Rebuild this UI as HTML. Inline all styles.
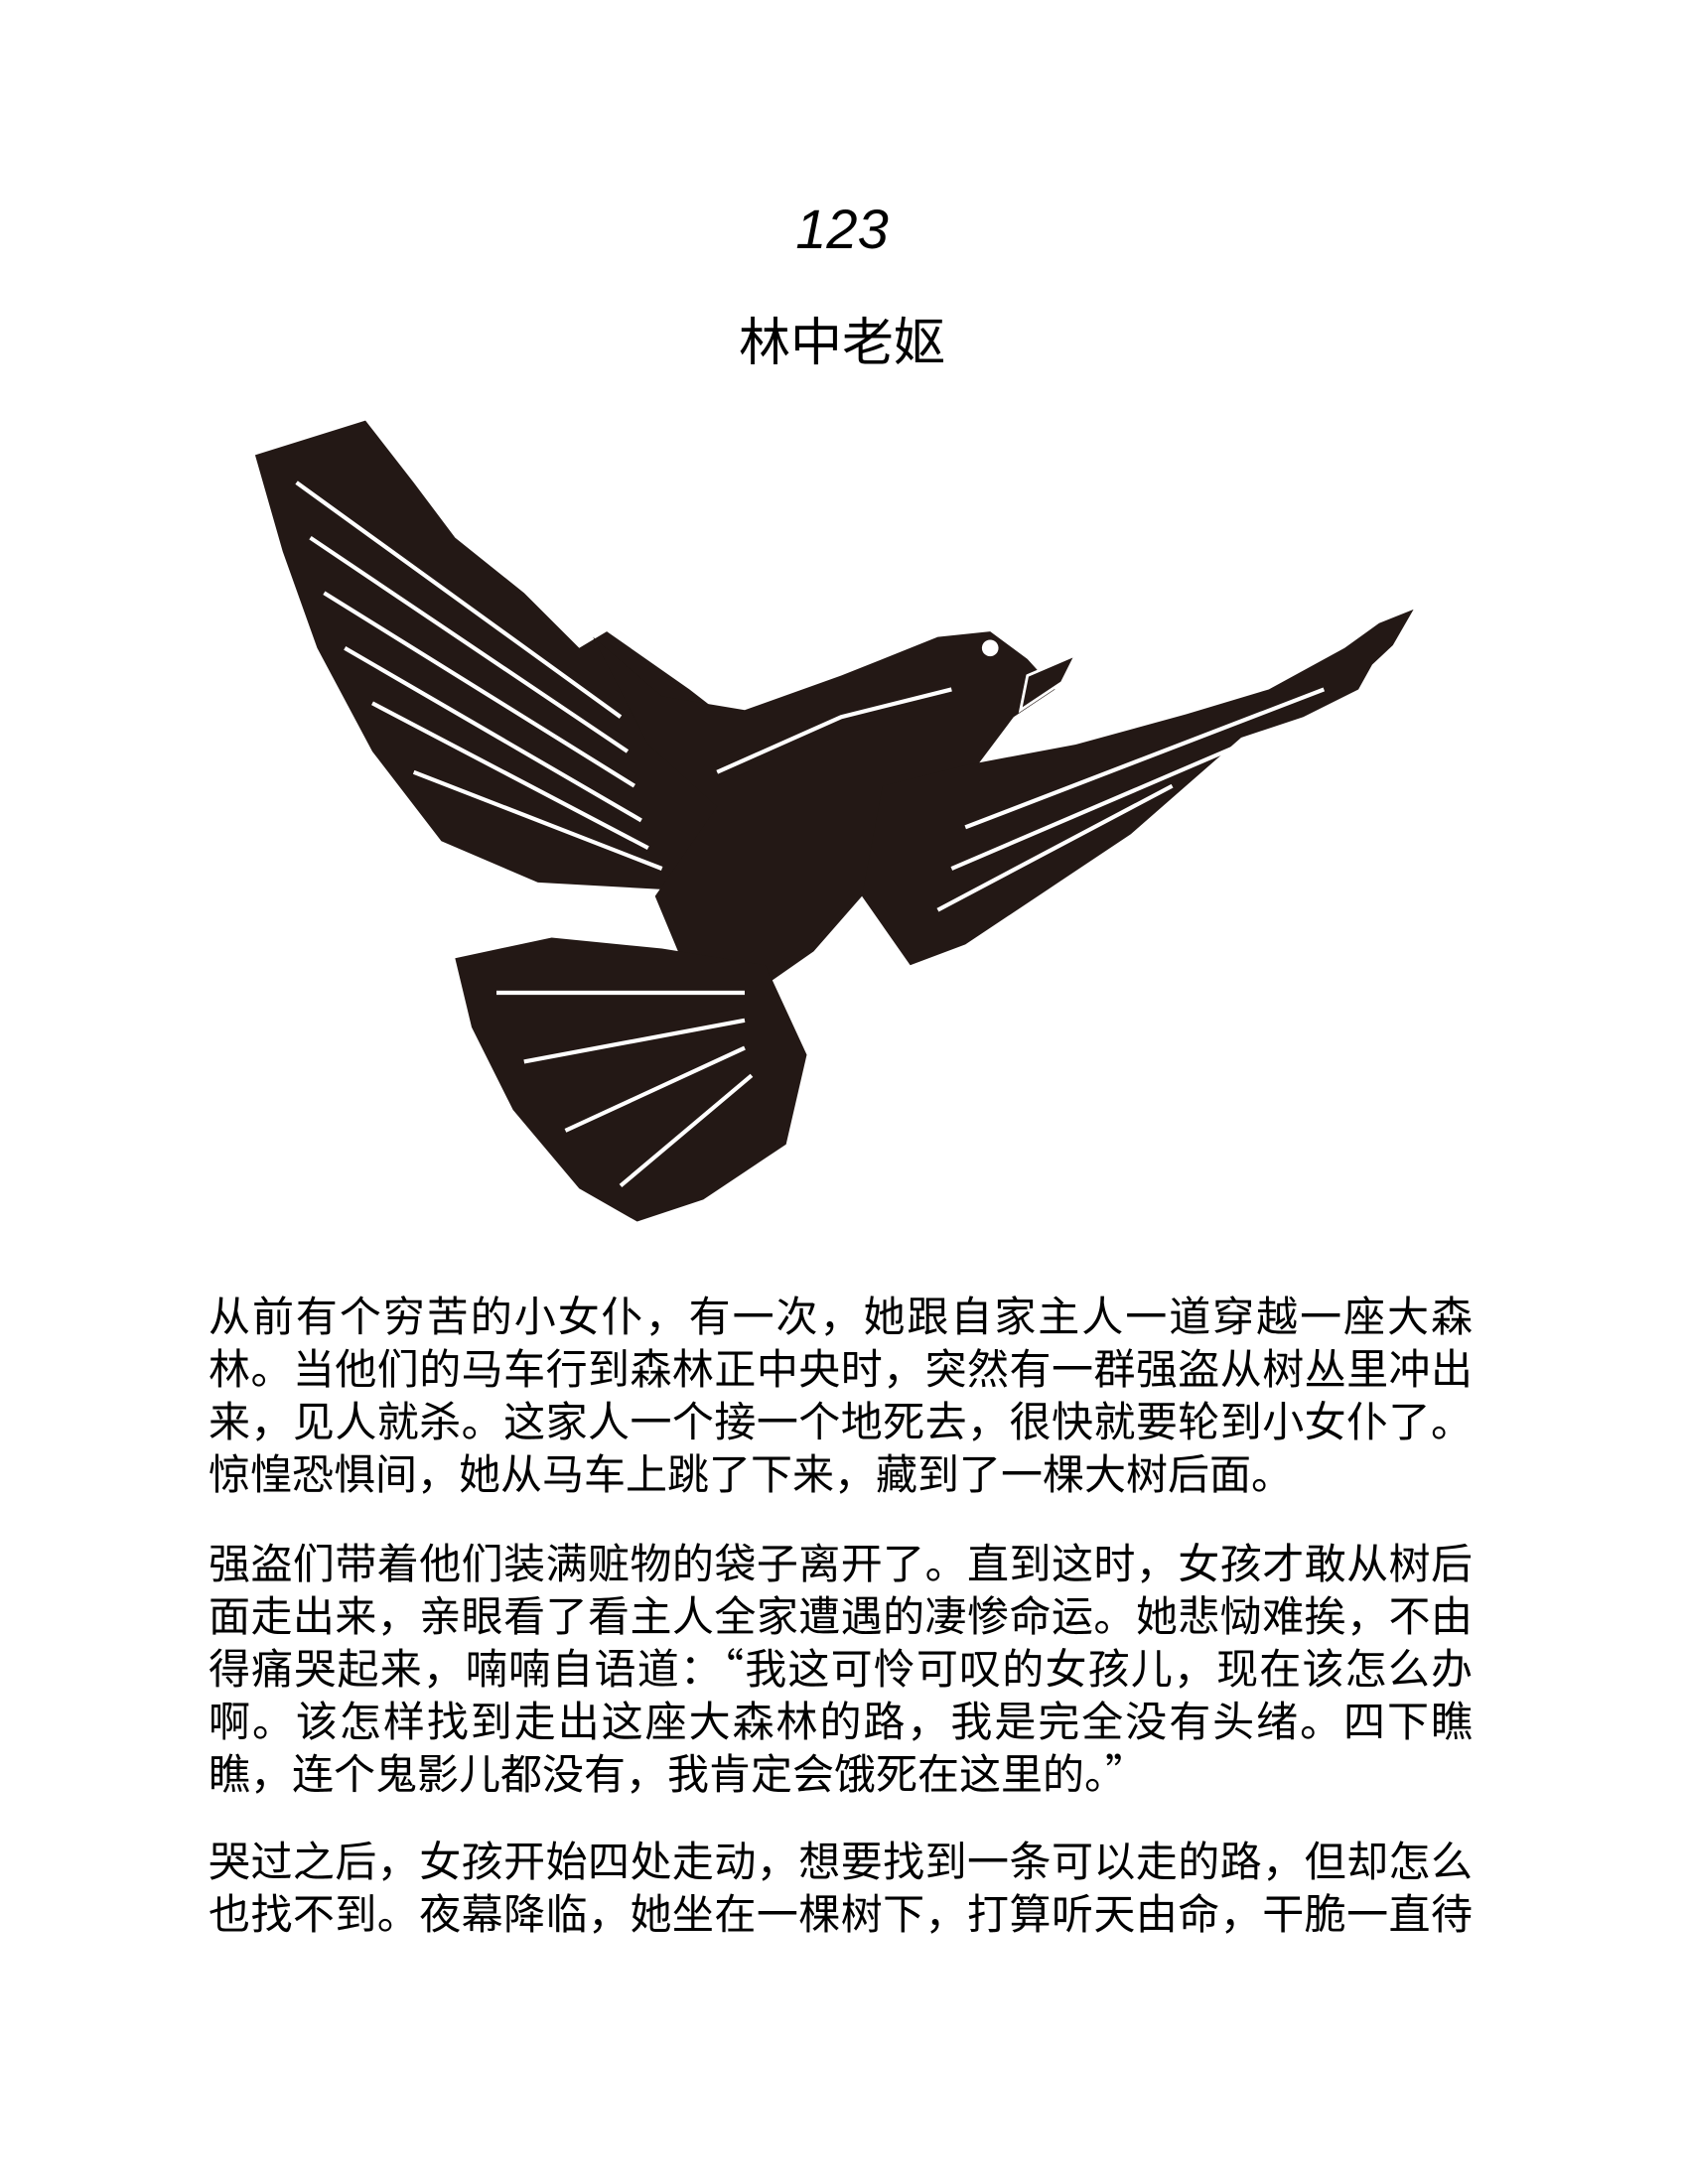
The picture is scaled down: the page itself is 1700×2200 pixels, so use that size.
<!DOCTYPE html>
<html><head><meta charset="utf-8">
<style>
html,body{margin:0;padding:0;background:#fff;}
body{width:1700px;height:2200px;position:relative;overflow:hidden;font-family:"Liberation Sans","Noto Sans CJK SC",sans-serif;color:#000;}
.num{position:absolute;left:0;width:1696px;top:198px;text-align:center;font-style:italic;font-size:56px;line-height:66px;}
.title{position:absolute;left:0;width:1696px;top:314px;text-align:center;font-size:52px;line-height:64px;}
.p{position:absolute;left:210px;width:1273px;font-family:"Noto Sans CJK SC",sans-serif;font-size:42px;line-height:53px;}
.p div{height:53px;white-space:nowrap;text-align:justify;text-align-last:justify;}
.p div.last{text-align-last:left;}
svg{position:absolute;left:0;top:0;}
</style></head><body>
<div class="num">123</div>
<div class="title">林中老妪</div>
<svg width="1700" height="2200" viewBox="0 0 1224 1584">
<g fill="#231815">
<path d="M185,330 L265,305 L300,350 L330,390 L380,430 L420,470 L440,458 L500,500 L545,535 L560,565 L545,620 L480,645 L390,640 L320,610 L270,545 L230,470 L205,400 Z"/>
<path d="M430,462 L480,505 L540,515 L610,490 L680,462 L718,458 L745,478 L765,500 L735,520 L705,560 L660,610 L590,690 L540,725 L500,710 L475,650 L520,585 L470,540 Z"/>
<path d="M640,570 L700,555 L780,540 L860,518 L920,500 L975,470 L1000,452 L1025,442 L1010,468 L995,482 L985,500 L945,520 L900,535 L860,570 L820,605 L760,645 L700,685 L660,700 L625,650 Z"/>
<path d="M330,695 L400,680 L480,688 L555,700 L585,765 L570,830 L510,870 L462,886 L420,862 L372,805 L342,745 Z"/>
</g>
<g stroke="#fff" stroke-width="3" fill="none">
<path d="M215,350 L450,520 M225,390 L455,545 M235,430 L460,570 M250,470 L465,595 M270,510 L470,615 M300,560 L480,630"/>
<path d="M700,600 L960,500 M690,630 L900,540 M680,660 L850,570"/>
<path d="M360,720 L540,720 M380,770 L540,740 M410,820 L540,760 M450,860 L545,780"/>
<path d="M520,560 L610,520 L690,500"/>
</g>
<circle cx="718" cy="470" r="6" fill="#fff"/>
<path d="M745,490 L780,475 L770,495 L740,515 Z" fill="#231815" stroke="#fff" stroke-width="2"/>
</svg>
<div class="p" style="top:1297px">
<div>从前有个穷苦的小女仆，有一次，她跟自家主人一道穿越一座大森</div>
<div>林。当他们的马车行到森林正中央时，突然有一群强盗从树丛里冲出</div>
<div>来，见人就杀。这家人一个接一个地死去，很快就要轮到小女仆了。</div>
<div class="last">惊惶恐惧间，她从马车上跳了下来，藏到了一棵大树后面。</div>
</div>
<div class="p" style="top:1546px">
<div>强盗们带着他们装满赃物的袋子离开了。直到这时，女孩才敢从树后</div>
<div>面走出来，亲眼看了看主人全家遭遇的凄惨命运。她悲恸难挨，不由</div>
<div>得痛哭起来，喃喃自语道：“我这可怜可叹的女孩儿，现在该怎么办</div>
<div>啊。该怎样找到走出这座大森林的路，我是完全没有头绪。四下瞧</div>
<div class="last">瞧，连个鬼影儿都没有，我肯定会饿死在这里的。”</div>
</div>
<div class="p" style="top:1846px">
<div>哭过之后，女孩开始四处走动，想要找到一条可以走的路，但却怎么</div>
<div>也找不到。夜幕降临，她坐在一棵树下，打算听天由命，干脆一直待</div>
</div>
</body></html>
